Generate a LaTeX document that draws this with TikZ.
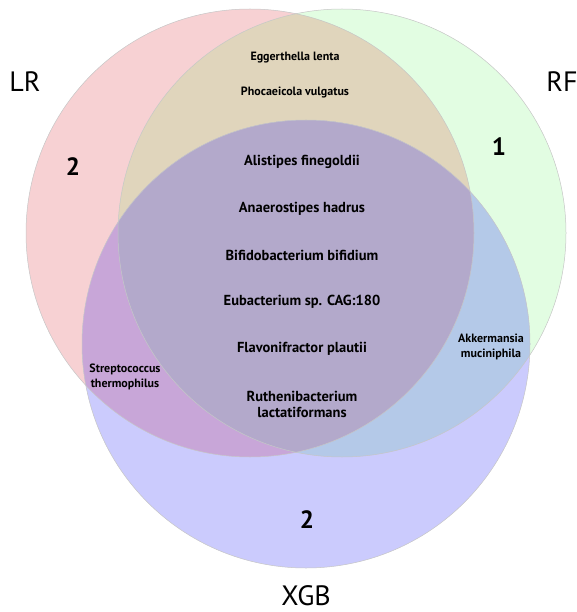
\documentclass[tikz,border=0pt]{standalone}
\usepackage{fontspec}
\setmainfont{PT Sans}
\usetikzlibrary{positioning}

\definecolor{lrpink}{HTML}{F7D1D3}
\definecolor{rfgreen}{HTML}{E2FDE2}
\definecolor{xgbblue}{HTML}{CBCBFD}
\definecolor{lrrf}{HTML}{E0D5BC}
\definecolor{lrxgb}{HTML}{C8A6D8}
\definecolor{rfxgb}{HTML}{B4C9E8}
\definecolor{allthree}{HTML}{B3A9CB}

\begin{document}
\begin{tikzpicture}[
		x=1pt, y=-1pt,
		setname/.style={font=\fontsize{28}{30}\selectfont, anchor=base, inner sep=1pt},
		count/.style={font=\bfseries\fontsize{25}{28}\selectfont},
		taxon/.style={font=\bfseries\fontsize{14.5}{16}\selectfont, align=center},
		taxonsmall/.style={font=\bfseries\fontsize{12}{14.5}\selectfont, align=center},
		rim/.style={draw=gray!45, line width=0.5pt},
	]
		\useasboundingbox (0,0) rectangle (577,612);

		% Circle centres
		\coordinate (lr) at (250,233);
		\coordinate (rf) at (342,233);
		\coordinate (xgb) at (306,344);

		% Single sets
		\fill[lrpink] (lr) circle [radius=224pt];
		\fill[rfgreen] (rf) circle [radius=224pt];
		\fill[xgbblue] (xgb) circle [radius=224pt];

		% Pairwise overlaps
		\begin{scope}
			\clip (lr) circle [radius=224pt];
			\fill[lrrf] (rf) circle [radius=224pt];
			\fill[lrxgb] (xgb) circle [radius=224pt];
		\end{scope}
		\begin{scope}
			\clip (rf) circle [radius=224pt];
			\fill[rfxgb] (xgb) circle [radius=224pt];
		\end{scope}

		% Common to all three
		\begin{scope}
			\clip (lr) circle [radius=224pt];
			\clip (rf) circle [radius=224pt];
			\fill[allthree] (xgb) circle [radius=224pt];
		\end{scope}

		% Outlines
		\draw[rim] (lr) circle [radius=224pt];
		\draw[rim] (rf) circle [radius=224pt];
		\draw[rim] (xgb) circle [radius=224pt];

		% Set names
		\node[setname] (lrname) at (25,92) {LR};
		\node[setname] (rfname) at (562,92) {RF};
		\node[setname] (xgbname) at (306,605) {XGB};

		% Counts
		\node[count] (lronly) at (73,167) {2};
		\node[count] (rfonly) at (499,147) {1};
		\node[count] (xgbonly) at (307,520) {2};

		% LR and RF
		\node[taxonsmall] (egg) at (295,58) {Eggerthella lenta};
		\node[taxonsmall] (pho) at (295,93) {Phocaeicola vulgatus};

		% All three
		\node[taxon] (ali) at (302,162) {Alistipes finegoldii};
		\node[taxon] (ana) at (302,209) {Anaerostipes hadrus};
		\node[taxon] (bif) at (302,255) {Bifidobacterium bifidium};
		\node[taxon] (eub) at (302,302) {Eubacterium sp. CAG:180};
		\node[taxon] (fla) at (302,349) {Flavonifractor plautii};
		\node[taxon] (rut) at (302,404) {Ruthenibacterium\\lactatiformans};

		% LR and XGB, RF and XGB
		\node[taxonsmall] (str) at (125,377) {Streptococcus\\thermophilus};
		\node[taxonsmall] (akk) at (491,347) {Akkermansia\\muciniphila};
	\end{tikzpicture}
\end{document}
